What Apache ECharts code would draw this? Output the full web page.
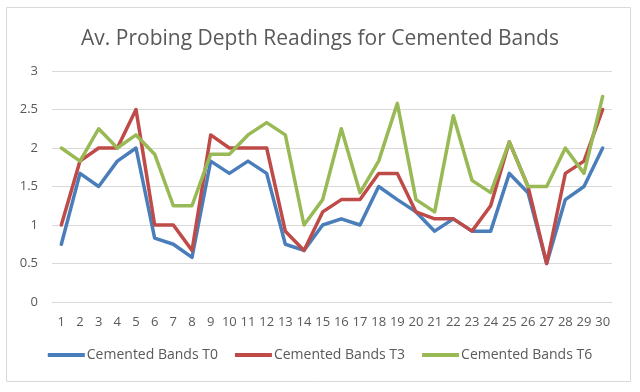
<!DOCTYPE html>
<html><head><meta charset="utf-8">
<script src="https://cdn.jsdelivr.net/npm/echarts@6/dist/echarts.min.js"></script>
<style>html,body{margin:0;padding:0;background:#fff}#c{width:640px;height:392px}</style>
</head><body><div id="c"></div>
<script>
const categories = ['1','2','3','4','5','6','7','8','9','10','11','12','13','14','15','16','17','18','19','20','21','22','23','24','25','26','27','28','29','30'];
const t0 = [0.75,1.67,1.5,1.83,2.0,0.83,0.75,0.58,1.83,1.67,1.83,1.67,0.75,0.67,1.0,1.08,1.0,1.5,1.33,1.17,0.92,1.08,0.92,0.92,1.67,1.42,0.5,1.33,1.5,2.0];
const t3 = [1.0,1.83,2.0,2.0,2.5,1.0,1.0,0.67,2.17,2.0,2.0,2.0,0.92,0.67,1.17,1.33,1.33,1.67,1.67,1.17,1.08,1.08,0.92,1.25,2.08,1.5,0.5,1.67,1.83,2.5];
const t6 = [2.0,1.83,2.25,2.0,2.17,1.92,1.25,1.25,1.92,1.92,2.17,2.33,2.17,1.0,1.33,2.25,1.42,1.83,2.58,1.33,1.17,2.42,1.58,1.42,2.08,1.5,1.5,2.0,1.67,2.67];
const seriesNames = ['Cemented Bands T0','Cemented Bands T3','Cemented Bands T6'];
const colors = ['#4a7ebb','#be4b48','#98b954'];
const font = 'Open Sans';
const chart = echarts.init(document.getElementById('c'));
const mk = (name, data, color) => ({
  name, type: 'line', data, symbol: 'none', smooth: false,
  lineStyle: {width: 3.5, color, cap: 'round', join: 'round'}, itemStyle: {color}
});
chart.setOption({
  animation: false,
  title: {text: 'Av. Probing Depth Readings for Cemented Bands', left: 'center', top: 24,
    textStyle: {fontFamily: font, fontSize: 21, fontWeight: 'normal', color: '#595959'}},
  graphic: [{type: 'rect', shape: {x: 6.5, y: 7.5, width: 624, height: 374},
    style: {fill: 'none', stroke: '#d9d9d9', lineWidth: 1}, silent: true}],
  grid: {left: 52, right: 28, top: 71, bottom: 90},
  legend: {top: 348, left: 'center', padding: 0, itemWidth: 37, itemHeight: 4, itemGap: 17, icon: 'rect',
    textStyle: {fontFamily: font, fontSize: 14, color: '#595959', padding: [0,0,0,-3]},
    data: seriesNames},
  xAxis: {type: 'category', data: categories, boundaryGap: true,
    axisLine: {lineStyle: {color: '#d9d9d9'}}, axisTick: {show: false},
    axisLabel: {fontFamily: font, fontSize: 13, color: '#595959', interval: 0, margin: 14}},
  yAxis: {type: 'value', min: 0, max: 3, interval: 0.5,
    axisLine: {show: false}, axisTick: {show: false},
    splitLine: {lineStyle: {color: '#d9d9d9'}},
    axisLabel: {fontFamily: font, fontSize: 13, color: '#595959', margin: 14}},
  series: [mk(seriesNames[0], t0, colors[0]), mk(seriesNames[1], t3, colors[1]), mk(seriesNames[2], t6, colors[2])]
});
</script></body></html>
